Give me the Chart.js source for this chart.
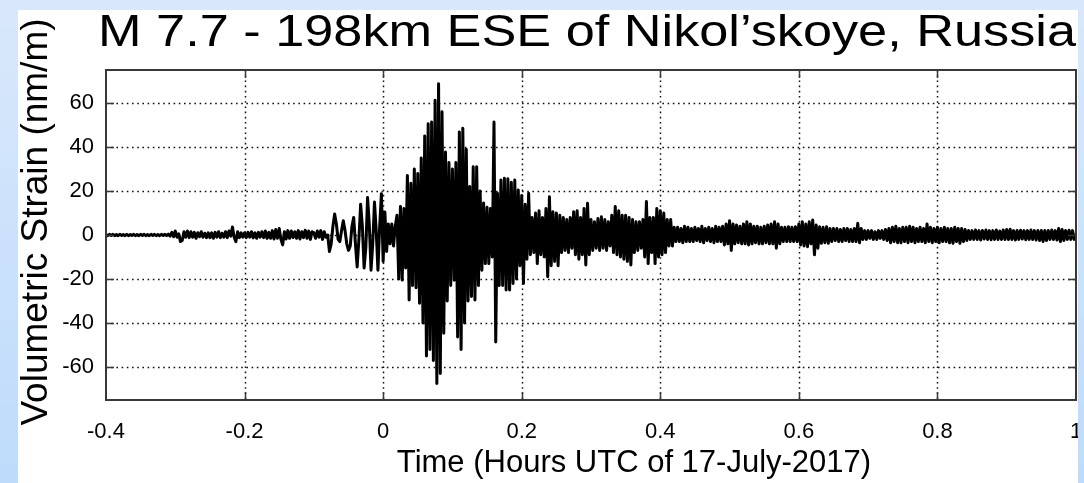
<!DOCTYPE html>
<html>
<head>
<meta charset="utf-8">
<script src="https://cdn.jsdelivr.net/npm/chart.js@4.4.1/dist/chart.umd.min.js"></script>
<style>
  html, body { margin: 0; padding: 0; background: #fff; overflow: hidden; }
  canvas { display: block; }
</style>
</head>
<body>
<canvas id="strainChart" width="1084" height="483"></canvas>
<script>
// Labels
const titleText = 'M 7.7 - 198km ESE of Nikol\u2019skoye, Russia';
const xAxisTitle = 'Time (Hours UTC of 17-July-2017)';
const yAxisTitle = 'Volumetric Strain (nm/m)';

// Axis ticks
const xTicks = [-0.4, -0.2, 0, 0.2, 0.4, 0.6, 0.8, 1];
const yTicks = [-60, -40, -20, 0, 20, 40, 60];

// Strain record: first sample time and sample interval (hours)
const sampleStart = -0.4;
const sampleStep = 0.0025;

// Volumetric strain samples (nm/m), 20 samples (0.05 h) per row
const strain = [
  0.2, -0.3, 0.3, -0.2, 0.3, -0.3, 0.2, -0.3, 0.3, -0.2, 0.2, -0.3, 0.3, -0.3, 0.2, -0.2, 0.3, -0.3, 0.2, -0.3,
  0.3, -0.2, 0.3, -0.3, 0.2, -0.3, 0.3, -0.2, 0.3, -0.3, 0.2, -0.3, 0.3, -0.2, 0.3, -0.3, 0.4, -0.5, 1.2, -0.8,
  1.8, -1, 0.5, -3, -2.5, 1.5, -1, 1.8, -1.2, 1.5, -1, 1.2, -1.5, 1, -0.8, 1.5, -1, 0.8, -1.2, 1,
  -1.2, 1, -1.5, 1.2, -1, 1.5, -1.2, 0.8, -1, 1.5, -1.2, 1.8, -0.5, 3.6, -1, -3, 1.5, -1.2, 1, -1,
  1, -1.2, 1.2, -1, 1.5, -1.3, 1, -1.5, 1.2, -1, 1.5, -1.2, 1.8, -1.5, 1.2, -1.5, 2, -1.8, 2.5, -1.5,
  3, -2, -4.5, 1.5, -1.8, 2, -1.5, 1.8, -1.2, 1.5, -1.5, 2, -1.8, 1.5, -1.2, 2.2, -1.5, 1.8, -2, 1.5,
  1, -1.5, 1.8, -1, 2, -2, 1.5, -1, 0, -7.5, -4, 4, 9.5, 5, -2, -3, 2, 6.5, 2, -4,
  -7, -5, 4, 8, -4, -14.5, -2, 14, 4, -15, -6, 17, 5, -16, -4, 15, 2, -16, 4, 18.8,
  -12, 10.5, -7.5, 5, -4, 5, -5, 4, 9, -20, 13, -20.5, 12, -15, 27, -29.5, 23.5, -23, 30, -24,
  28, -31, 35, -40, 45, -55, 50.6, -52, 51.4, -57, 61.2, -67.5, 68.8, -63, 56, -44.7, 37.7, -30, 33, -23,
  30, -20.6, 33, -46.4, 46.8, -52, 48.5, -40, 39, -30, 22, -28, 31, -29.5, 31, -23, 20, -16, 14.6, -13,
  12.6, -13, 12, -10, 51.4, -48.6, 19, -23, 25, -23, 25.8, -25, 25.6, -25, 24, -22, 25, -20, 20.5, -14,
  18, -22, 14, -11, 19, -9, 8, -8, 10, -13, 11, -9, 8, -10, 12, -19, 17.4, -14, 10.6, -12,
  10, -14, 9, -8, 8, -7, 7, -8, 8, -6, 10.6, -9, 11, -11, 8, -9, 12, -13.6, 14.4, -9,
  7, -7, 6, -6, 7.5, -7, 8.3, -6, 7, -7, 6, -5, 9, -8, 13, -9, 11, -10, 9, -11,
  9, -12, 8, -13.6, 7, -8, 6, -7, 6, -6, 7, -10, 15.2, -13, 8, -8, 8, -13, 12, -10,
  11, -9, 10, -8, 7, -5, 7, -5, 3.5, -3, 3.5, -3, 3, -3.5, 4, -3, 3.5, -3, 3, -3,
  3.5, -2.5, 3, -3, 4, -3.5, 3, -2.5, 3.5, -3, 3, -3.5, 4, -3, 3.5, -3, 4, -4.5, 5, -4,
  6.5, -7, 5, -4, 4.5, -3.5, 4, -4, 5, -4, 6, -4.5, 5, -4, 4, -3.5, 4, -4, 3.5, -4,
  4, -3.5, 4.5, -4, 5, -4, 6, -6, 5, -4, 3.5, -3, 3.5, -3, 3.8, -3, 3.5, -3, 3.8, -3,
  5, -4.5, 6, -5, 5, -5.3, 6, -4, 6.8, -9, 4.5, -6, 3.8, -3.8, 3.5, -3.5, 3.8, -3.8, 3, -3,
  3, -2.5, 3, -3, 2.5, -3, 3, -2.5, 3, -3, 2.5, -3, 3, -3, 5.3, -3.5, 3, -2, 2, -2,
  2, -1.5, 2, -2, 1.5, -2, 2, -1.5, 2, -2, 2.5, -2.5, 3, -3.5, 3.5, -3, 4, -3.5, 3, -3.5,
  3.5, -3, 3.5, -3.5, 4, -3, 3.5, -3.5, 3, -3, 3.5, -3, 3, -3.5, 5, -3, 3.5, -3.5, 3, -3,
  3.5, -3.5, 3, -3, 3.5, -3, 3, -3.5, 3, -3.8, 3.5, -3, 3, -3.8, 3, -3, 2.5, -2.5, 2, -2,
  2, -2, 2.3, -2, 2, -2.3, 2, -1.8, 2.3, -2, 2, -2.2, 2, -2, 2.3, -2, 1.8, -2, 2.3, -2,
  2.5, -2, 2.6, -2, 2, -2.3, 2, -2, 2.2, -1.8, 2, -2.2, 2, -2, 2.3, -2, 2, -2.3, 2, -2.5,
  2, -3, 2, -2.5, 2, -2, 2.3, -2, 2, -2.3, 3, -3, 2.5, -2.5, 2, -2, 2.2, -2, 2, -2,
  0.5
];

const FONT = "'Liberation Sans', Arial, Helvetica, sans-serif";

const tracePoints = strain.map((v, i) => ({ x: sampleStart + i * sampleStep, y: v }));

// Page background, dotted grid, boxed frame with inward ticks, titles and blue border
const framePlugin = {
  id: 'framePlugin',
  beforeDraw(chart) {
    const { ctx, width, height } = chart;
    ctx.save();
    ctx.fillStyle = '#ffffff';
    ctx.fillRect(0, 0, width, height);
    ctx.restore();
  },
  beforeDatasetsDraw(chart) {
    const { ctx, chartArea: a, scales: { x, y } } = chart;
    ctx.save();
    ctx.strokeStyle = '#111';
    ctx.lineWidth = 1.5;
    ctx.setLineDash([1.6, 3.6]);
    xTicks.slice(1, -1).forEach(v => {
      const px = Math.round(x.getPixelForValue(v)) + 0.5;
      ctx.beginPath(); ctx.moveTo(px, a.top); ctx.lineTo(px, a.bottom); ctx.stroke();
    });
    yTicks.forEach(v => {
      const py = Math.round(y.getPixelForValue(v)) + 0.5;
      ctx.beginPath(); ctx.moveTo(a.left, py); ctx.lineTo(a.right, py); ctx.stroke();
    });
    ctx.restore();
  },
  afterDatasetsDraw(chart) {
    const { ctx, chartArea: a, scales: { x, y } } = chart;
    ctx.save();
    ctx.strokeStyle = '#383838';
    ctx.lineWidth = 2;
    ctx.strokeRect(a.left, a.top, a.right - a.left, a.bottom - a.top);
    ctx.lineWidth = 1.5;
    const len = 8;
    xTicks.slice(1, -1).forEach(v => {
      const px = Math.round(x.getPixelForValue(v)) + 0.5;
      ctx.beginPath();
      ctx.moveTo(px, a.bottom); ctx.lineTo(px, a.bottom - len);
      ctx.moveTo(px, a.top); ctx.lineTo(px, a.top + len);
      ctx.stroke();
    });
    yTicks.forEach(v => {
      const py = Math.round(y.getPixelForValue(v)) + 0.5;
      ctx.beginPath();
      ctx.moveTo(a.left, py); ctx.lineTo(a.left + len, py);
      ctx.moveTo(a.right, py); ctx.lineTo(a.right - len, py);
      ctx.stroke();
    });
    ctx.restore();
  },
  afterDraw(chart) {
    const { ctx, width, height } = chart;

    // Title, stretched to span the plot width
    ctx.save();
    ctx.font = '44px ' + FONT;
    ctx.fillStyle = '#000';
    ctx.textBaseline = 'alphabetic';
    const tx0 = 98, tx1 = 1076;
    const w = ctx.measureText(titleText).width;
    ctx.translate(tx0, 46);
    ctx.scale((tx1 - tx0) / w, 1);
    ctx.fillText(titleText, 0, 0);
    ctx.restore();

    // Axis titles
    ctx.save();
    ctx.fillStyle = '#000';
    ctx.font = '31px ' + FONT;
    ctx.textAlign = 'center';
    ctx.textBaseline = 'alphabetic';
    ctx.fillText(xAxisTitle, 634, 472);
    ctx.restore();

    ctx.save();
    ctx.fillStyle = '#000';
    ctx.font = '37px ' + FONT;
    ctx.textAlign = 'center';
    ctx.textBaseline = 'alphabetic';
    ctx.translate(47, 222);
    ctx.rotate(-Math.PI / 2);
    ctx.fillText(yAxisTitle, 0, 0);
    ctx.restore();

    // Light blue border on the top, left and right edges
    ctx.save();
    const g = ctx.createLinearGradient(0, 0, 0, height);
    g.addColorStop(0, '#d9e8fb');
    g.addColorStop(1, '#bedbfb');
    ctx.fillStyle = g;
    ctx.fillRect(0, 0, width, 10);
    ctx.fillRect(0, 0, 18, height);
    ctx.fillRect(1078, 0, width - 1078, height);
    ctx.restore();
  }
};

new Chart(document.getElementById('strainChart'), {
  type: 'line',
  data: {
    datasets: [{
      data: tracePoints,
      borderColor: '#000000',
      borderWidth: 3,
      borderJoinStyle: 'round',
      pointRadius: 0,
      tension: 0,
      fill: false
    }]
  },
  options: {
    responsive: false,
    animation: false,
    events: [],
    layout: { padding: { top: 70, right: 8, left: 0, bottom: 0 } },
    plugins: {
      legend: { display: false },
      tooltip: { enabled: false },
      title: { display: false }
    },
    scales: {
      x: {
        type: 'linear',
        min: -0.4,
        max: 1,
        afterBuildTicks: s => { s.ticks = xTicks.map(v => ({ value: v })); },
        afterFit: s => { s.height = 83; s.paddingLeft = 0; s.paddingRight = 0; },
        grid: { display: false, drawTicks: false },
        border: { display: false },
        ticks: {
          autoSkip: false,
          maxRotation: 0,
          padding: 19,
          color: '#000',
          font: { family: FONT, size: 22 },
          callback: v => String(Math.round(v * 10) / 10)
        }
      },
      y: {
        type: 'linear',
        min: -75,
        max: 75,
        afterBuildTicks: s => { s.ticks = yTicks.map(v => ({ value: v })); },
        afterFit: s => { s.width = 106; s.paddingTop = 0; s.paddingBottom = 0; },
        grid: { display: false, drawTicks: false },
        border: { display: false },
        ticks: {
          padding: 12,
          color: '#000',
          font: { family: FONT, size: 22 }
        }
      }
    }
  },
  plugins: [framePlugin]
});
</script>
</body>
</html>
